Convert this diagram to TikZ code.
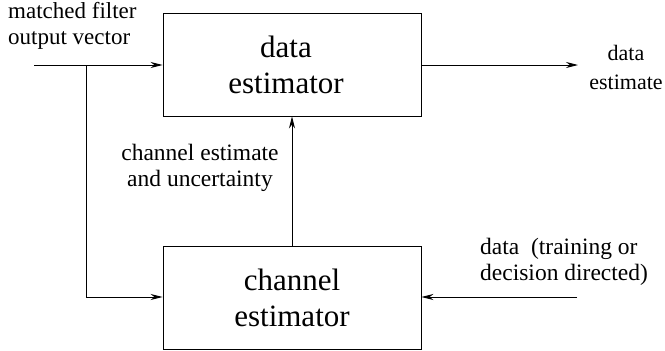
\documentclass[tikz,border=0pt]{standalone}
\usepackage{fontspec}
\setmainfont{Liberation Serif}
\usetikzlibrary{arrows.meta}
\begin{document}
\begin{tikzpicture}[x=1pt,y=-1pt,
  block/.style={draw,line width=0.9pt,minimum width=258pt,minimum height=103pt,
    align=center,font=\fontsize{31}{36}\selectfont,inner sep=0pt},
  lbl/.style={font=\fontsize{23.5}{26.5}\selectfont,inner sep=0pt},
  wire/.style={line width=0.9pt},
  arr/.style={wire,-{Stealth[length=12pt,width=6pt]}}]
\useasboundingbox (0,0) rectangle (665,351);
% the two blocks
\node[block] (de) at (292,64.5) {\hspace*{-12pt}data\\\hspace*{-12pt}estimator};
\node[block] (ce) at (292,297.5) {channel\\estimator};
% signal ends and branch points
\coordinate (in) at (34,65);
\coordinate (br) at (86,65);
\coordinate (out) at (578,65);
\coordinate (dd) at (577,297);
% input vector, split to both estimators
\draw[arr] (in) -- (de.west|-in);
\draw[arr] (br) |- (ce.west|-dd);
% output and side input
\draw[arr] (de.east|-out) -- (out);
\draw[arr] (dd) -- (ce.east|-dd);
% channel estimate fed back up
\draw[arr] (ce.north) -- (de.south);
% labels
\node[lbl,font=\fontsize{23}{26.5}\selectfont,align=left,anchor=north west] (lin) at (8,2) {matched filter\\output vector};
\node[lbl,font=\fontsize{22}{29}\selectfont,align=center] (lout) at (626,67) {data\\estimate};
\node[lbl,align=center] (lce) at (200,168) {channel estimate\\and uncertainty};
\node[lbl,align=left,anchor=west] (ldd) at (480,262) {data\enspace(training or\\decision directed)};
\end{tikzpicture}
\end{document}
